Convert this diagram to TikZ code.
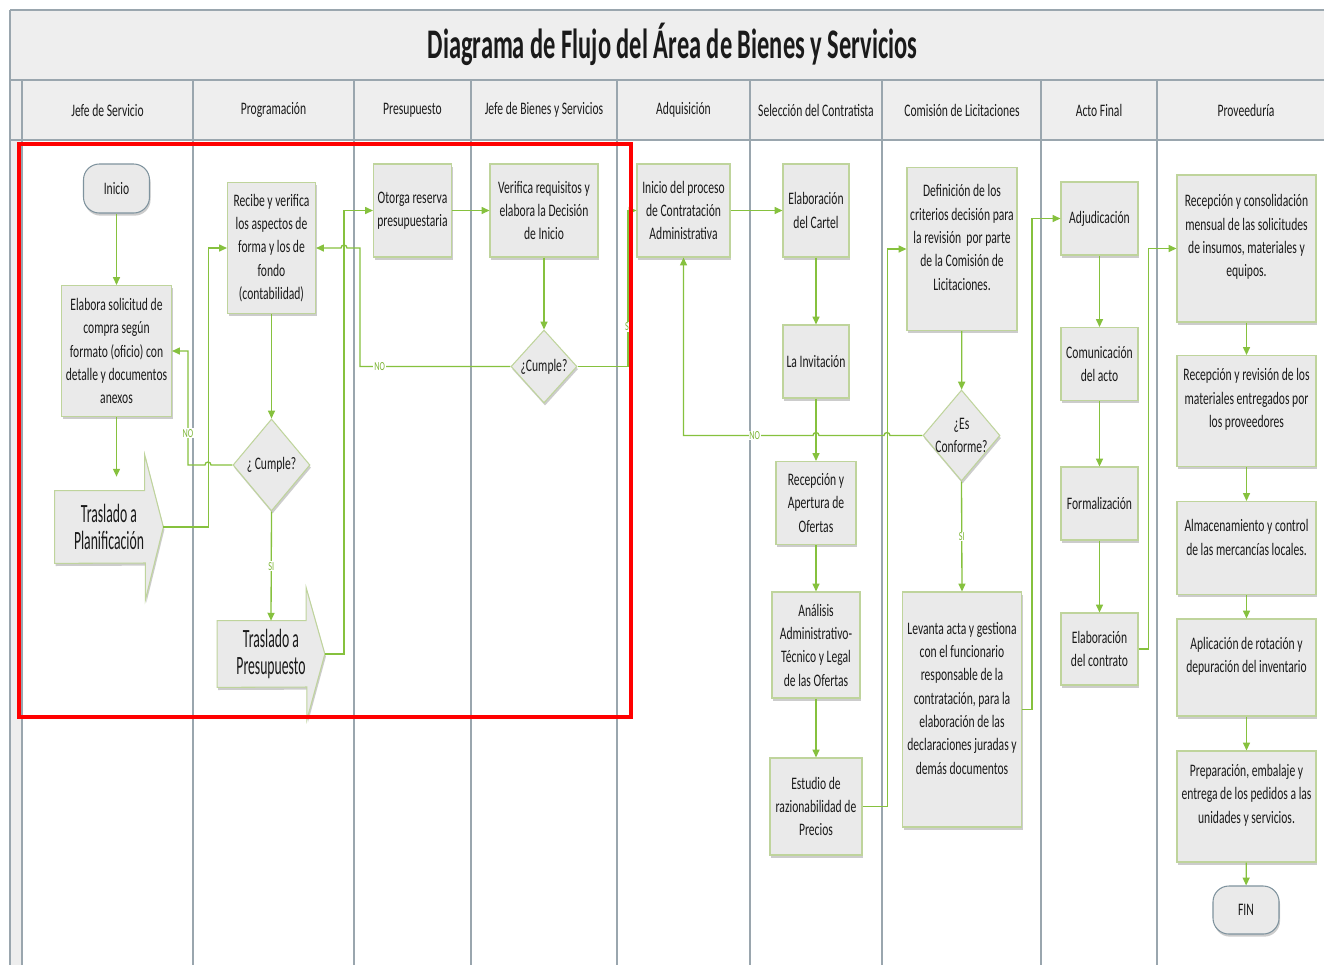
\documentclass[tikz,border=0pt]{standalone}
\usepackage{fontspec}
\setmainfont{Carlito}
\newfontfamily\boxfont[FakeStretch=0.66]{Carlito}
\newfontfamily\titlefont[FakeStretch=0.58]{Carlito}
\newfontfamily\transferfont[FakeStretch=0.52]{Carlito}
\usetikzlibrary{arrows.meta,calc,shapes.geometric,shadows}

\definecolor{flowgreen}{HTML}{86C13E}
\definecolor{labelgreen}{HTML}{7DB536}
\definecolor{boxline}{HTML}{BFD49C}
\definecolor{boxfill}{HTML}{EAEAEA}
\definecolor{termline}{HTML}{7F939E}
\definecolor{laneline}{HTML}{9AA6AE}
\definecolor{bandfill}{HTML}{EEEEEE}
\definecolor{ink}{HTML}{1A1A1A}
\definecolor{frameRed}{HTML}{FF0000}

\pgfdeclarelayer{bg}
\pgfsetlayers{bg,main}

\tikzset{
  sz/.style 2 args={minimum width=#1*0.02cm, minimum height=#2*0.02cm},
  shadowed/.style={drop shadow={shadow xshift=0.6pt, shadow yshift=-1.5pt, opacity=0.2, fill=black}},
  box/.style={rectangle, draw=boxline, line width=0.6pt, fill=boxfill, shadowed,
    align=center, inner sep=1pt, text=ink, font=\boxfont\fontsize{10}{13.3}\selectfont},
  txt/.style={align=center, text=ink, inner sep=0pt, fill=none, draw=none,
    font=\boxfont\fontsize{10}{13.3}\selectfont},
  decision/.style={diamond, draw=boxline, line width=0.6pt, fill=boxfill, shadowed, inner sep=0pt},
  term/.style={rectangle, rounded corners=9pt, draw=termline, line width=0.6pt, fill=boxfill,
    shadowed, text=ink, inner sep=0pt, font=\boxfont\fontsize{10}{13.3}\selectfont},
  transfer/.style={align=center, text=ink, inner sep=0pt,
    font=\transferfont\fontsize{15}{15.3}\selectfont},
  transfershape/.style={draw=boxline, line width=0.6pt, fill=boxfill, shadowed},
  flow/.style={draw=flowgreen, line width=0.75pt, -{Triangle[length=4.5pt,width=4pt]}},
  lbl/.style={font=\boxfont\fontsize{7}{8}\selectfont, text=labelgreen, fill=white, inner sep=0.5pt},
  lane/.style={draw=laneline, line width=0.8pt},
  lanehead/.style={text=ink, inner sep=0pt, font=\boxfont\fontsize{10}{12}\selectfont},
}

\begin{document}
\begin{tikzpicture}[x=0.02cm, y=-0.02cm]
\useasboundingbox (0,0) rectangle (1324,965);

\begin{pgfonlayer}{bg}
  \fill[white] (0,0) rectangle (1324,965);
\end{pgfonlayer}

% title band, lane header row and left strip
\fill[bandfill] (10,10) rectangle (1324,140);
\fill[bandfill] (10,140) rectangle (22,965);
\draw[lane] (10,10) -- (1324,10);
\draw[lane] (10,80) -- (1324,80);
\draw[lane] (10,140) -- (1324,140);
\draw[lane] (10,10) -- (10,965);
\foreach \lx in {22,193,354,471,617,750,882,1041,1157}
  \draw[lane] (\lx,80) -- (\lx,965);

\node[text=ink, inner sep=0pt, font=\titlefont\bfseries\fontsize{24}{28}\selectfont]
  (title) at (672.5,44) {Diagrama de Flujo del Área de Bienes y Servicios};

\node[lanehead] (h1) at (107.5,110) {Jefe de Servicio};
\node[lanehead] (h2) at (273.5,110) {Programación};
\node[lanehead] (h3) at (412.5,110) {Presupuesto};
\node[lanehead] (h4) at (544,110) {Jefe de Bienes y Servicios};
\node[lanehead] (h5) at (683.5,110) {Adquisición};
\node[lanehead] (h6) at (816,110) {Selección del Contratista};
\node[lanehead] (h7) at (962,110) {Comisión de Licitaciones};
\node[lanehead] (h8) at (1099,110) {Acto Final};
\node[lanehead] (h9) at (1246,110) {Proveeduría};

% Jefe de Servicio
\node[term, sz={66}{49}] (inicio) at (116.5,188.5) {Inicio};
\node[box, sz={110}{131}] (elabora) at (116.5,351)
  {Elabora solicitud de\\compra según\\formato (oficio) con\\detalle y documentos\\anexos};
\node[transfer, sz={108}{72}] (plan) at (109,527) {Traslado a\\Planificación};

% Programación
\node[box, sz={88}{131}] (recibe) at (271.5,248)
  {Recibe y verifica\\los aspectos de\\forma y los de\\fondo\\(contabilidad)};
\node[decision, sz={77}{92}, label={[txt]center:{¿ Cumple?}}] (cump1) at (271.5,465) {};
\node[transfer, sz={107}{66}] (presup) at (271,654) {Traslado a\\Presupuesto};

% block-arrow outlines behind the transfer texts
\begin{pgfonlayer}{bg}
  \filldraw[transfershape] (plan.north west) -- ++(90,0) -- ++(0,-36) -- (plan.east)
    -- ++(-18,73) -- ++(0,-37) -- (plan.south west) -- cycle;
  \filldraw[transfershape] (presup.north west) -- ++(89,0) -- ++(0,-33) -- (presup.east)
    -- ++(-18,66) -- ++(0,-33) -- (presup.south west) -- cycle;
\end{pgfonlayer}

% Presupuesto
\node[box, sz={78}{93}] (otorga) at (412.5,210.5) {Otorga reserva\\presupuestaria};

% Jefe de Bienes y Servicios
\node[box, sz={108}{93}] (verifica) at (544,210.5) {Verifica requisitos y\\elabora la Decisión\\de Inicio};
\node[decision, sz={66}{73}, label={[txt]center:{¿Cumple?}}] (cump2) at (544,366.5) {};

% Adquisición
\node[box, sz={93}{93}] (inicioproc) at (683.5,210.5) {Inicio del proceso\\de Contratación\\Administrativa};

% Selección del Contratista
\node[box, sz={66}{93}] (cartel) at (816,210.5) {Elaboración\\del Cartel};
\node[box, sz={66}{73}] (invit) at (816,361.5) {La Invitación};
\node[box, sz={80}{83}] (recep) at (816,503) {Recepción y\\Apertura de\\Ofertas};
\node[box, sz={88}{106}] (analisis) at (816,645) {Análisis\\Administrativo-\\Técnico y Legal\\de las Ofertas};
\node[box, sz={92}{97}] (estudio) at (816,806.5) {Estudio de\\razionabilidad de\\Precios};

% Comisión de Licitaciones
\node[box, sz={110}{163}, label={[txt,yshift=6.5pt]center:{Definición de los\\criterios decisión para\\la revisión\ \ por parte\\de la Comisión de\\Licitaciones.}}] (definicion) at (962,249) {};
\node[decision, sz={77}{91}, label={[txt]center:{¿Es\\Conforme?}}] (conforme) at (961.5,435.5) {};
\node[box, sz={119}{235}, label={[txt,yshift=6.5pt]center:{Levanta acta y gestiona\\con el funcionario\\responsable de la\\contratación, para la\\elaboración de las\\declaraciones juradas y\\demás documentos}}] (levanta) at (962,709.5) {};

% Acto Final
\node[box, sz={77}{73}] (adjud) at (1099.5,218.5) {Adjudicación};
\node[box, sz={77}{73}] (comun) at (1099.5,364) {Comunicación\\del acto};
\node[box, sz={77}{73}] (formal) at (1099.5,503.5) {Formalización};
\node[box, sz={77}{72}] (contrato) at (1099.5,649) {Elaboración\\del contrato};

% Proveeduría
\node[box, sz={139}{147}, label={[txt,yshift=6.5pt]center:{Recepción y consolidación\\mensual de las solicitudes\\de insumos, materiales y\\equipos.}}] (p1) at (1246.5,248.5) {};
\node[box, sz={139}{111}, label={[txt,yshift=6.5pt]center:{Recepción y revisión de los\\materiales entregados por\\los proveedores}}] (p2) at (1246.5,411) {};
\node[box, sz={139}{93}, label={[txt,yshift=6pt]center:{Almacenamiento y control\\de las mercancías locales.}}] (p3) at (1246.5,548) {};
\node[box, sz={139}{97}, label={[txt,yshift=6.5pt]center:{Aplicación de rotación y\\depuración del inventario}}] (p4) at (1246.5,667.5) {};
\node[box, sz={139}{111}, label={[txt,yshift=6.5pt]center:{Preparación, embalaje y\\entrega de los pedidos a las\\unidades y servicios.}}] (p5) at (1246.5,806.5) {};
\node[term, sz={66}{48}] (fin) at (1246,910) {FIN};

% connectors
\coordinate (planin) at ($(elabora.south |- plan.north)+(0,-14)$);
\draw[flow] (inicio) -- (elabora);
\draw[flow] (elabora.south) -- (planin);
\draw[flow] (plan.east) -- ++(45,0) |- (recibe.west);
\draw[flow] (recibe) -- (cump1);
\draw[flow] (cump1.west) -- (211,465) arc (0:-180:3) -- (188,465)
  |- node[lbl, pos=0.14] (no1) {NO} (elabora.east);
\draw[flow] (cump1.south) -- node[lbl] (si1) {SI} (presup.north);
\draw[flow] (presup.east) -- ++(19,0) |- (otorga.west);
\draw[flow] (otorga) -- (verifica);
\draw[flow] (verifica) -- (cump2);
\draw[flow] (cump2.west) -- node[lbl, pos=0.87] (no2) {NO} (360,366.5) -- (360,248)
  -- (347,248) arc (0:-180:3) -- (recibe.east);
\draw[flow] (cump2.east) -- (628,366.5) |- node[lbl, pos=0.127] (si2) {SI} (inicioproc.west);
\draw[flow] (inicioproc) -- (cartel);
\draw[flow] (cartel) -- (invit);
\draw[flow] (invit) -- (recep);
\draw[flow] (conforme.west) -- (890,435.5) arc (0:-180:3) -- (819,435.5) arc (0:-180:3)
  -- node[lbl, pos=0.45] (no3) {NO} (inicioproc.south |- conforme.west) -- (inicioproc.south);
\draw[flow] (recep) -- (analisis);
\draw[flow] (analisis) -- (estudio);
\draw[flow] (estudio.east) -- ++(25,0) |- (definicion.west);
\draw[flow] (definicion) -- (conforme);
\draw[flow] (conforme.south) -- node[lbl] (si3) {SI} (levanta.north);
\draw[flow] (levanta.east) -- ++(10,0) |- (adjud.west);
\draw[flow] (adjud) -- (comun);
\draw[flow] (comun) -- (formal);
\draw[flow] (formal) -- (contrato);
\draw[flow] (contrato.east) -- ++(10,0) |- (p1.west);
\draw[flow] (p1) -- (p2);
\draw[flow] (p2) -- (p3);
\draw[flow] (p3) -- (p4);
\draw[flow] (p4) -- (p5);
\draw[flow] (p5) -- (fin);

% highlighted region
\draw[draw=frameRed, line width=2.8pt] (19,144) rectangle (631,717);

\end{tikzpicture}
\end{document}
